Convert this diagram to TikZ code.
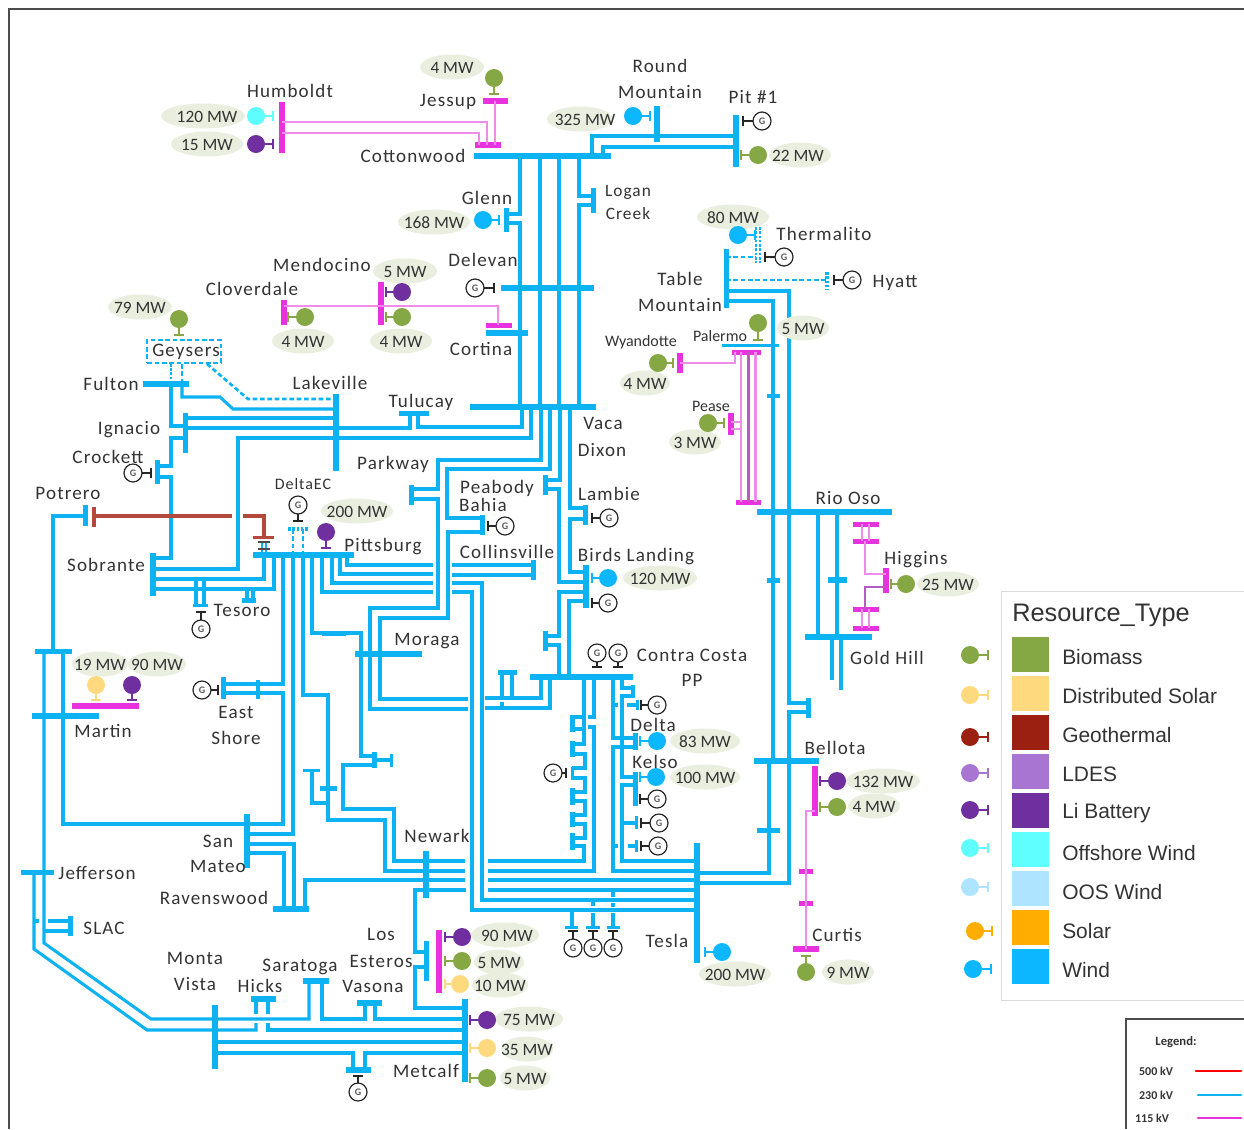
\documentclass[tikz,border=0pt]{standalone}
\usepackage{fontspec}
\setmainfont{Carlito}[LetterSpace=6]
\newfontfamily\mwfont{Carlito}
\newfontfamily\legfont{Liberation Sans}
\usetikzlibrary{shapes.geometric}
\definecolor{cblue}{HTML}{0DB2F2}
\definecolor{cmag}{HTML}{E832E0}
\definecolor{clmag}{HTML}{EE8CE8}
\definecolor{cdmag}{HTML}{B45CC4}
\definecolor{cred}{HTML}{B5483C}
\definecolor{cbio}{HTML}{86A844}
\definecolor{cdso}{HTML}{FFD97D}
\definecolor{cgeo}{HTML}{9C2012}
\definecolor{clde}{HTML}{A875D2}
\definecolor{cli}{HTML}{6F2F9F}
\definecolor{coff}{HTML}{5FFFFF}
\definecolor{coos}{HTML}{AEE4FF}
\definecolor{csol}{HTML}{FFAE00}
\definecolor{cwin}{HTML}{0DB7FF}
\definecolor{cmw}{HTML}{E9EEDF}
\definecolor{ctxt}{HTML}{333333}
\newcounter{autoid}
\tikzset{
 busn/.style={rectangle,inner sep=0pt,outer sep=0pt,draw=none},
 w/.style={draw=cblue,line width=2.3pt,line join=miter},
 wd/.style={draw=cblue,line width=2pt,dash pattern=on 3.5pt off 2pt},
 wdot/.style={draw=cblue,line width=2pt,dash pattern=on 2pt off 1.2pt},
 m/.style={draw=clmag,line width=1.6pt},
 rl/.style={draw=cred,line width=2.4pt},
 gd/.style={circle,inner sep=0pt,outer sep=0pt,minimum size=13.5pt,draw=none},
 gg/.style={circle,inner sep=0pt,outer sep=0pt,minimum size=13.5pt,draw=black!85,line width=0.9pt,fill=white,text=black!65,font=\mwfont\bfseries\fontsize{7.5}{8}\selectfont},
 mwt/.style={inner sep=0pt,outer sep=0pt,text height=9pt,text depth=0pt,text=ctxt,font=\mwfont\fontsize{13}{15}\selectfont},
 lbl/.style={inner sep=0pt,text height=12pt,text depth=3pt,text=ctxt,font=\fontsize{14.3}{16}\selectfont},
}
% name, x1, x2, y, height, colour
\newcommand{\HBus}[6]{\node[busn,fill=#6,minimum width={(#3-#2)*0.75pt},minimum height={#5*0.75pt}] (#1) at ({(#2+#3)/2},#4) {};}
% name, x, y1, y2, width, colour
\newcommand{\VBus}[6]{\node[busn,fill=#6,minimum width={#5*0.75pt},minimum height={(#4-#3)*0.75pt}] (#1) at (#2,{(#3+#4)/2}) {};}
% name, x, y, colour, dx, dy, stem length
\newcommand{\ResGen}[7]{%
 \node[gd,fill=#4] (#1) at (#2,#3) {};
 \coordinate (#1s) at ({#2+#7*#5},{#3+#7*#6});
 \draw[draw=#4,line width=1.4pt] (#1) -- (#1s);
 \draw[draw=#4,line width=1.4pt] ({#2+#7*#5+5*#6},{#3+#7*#6+5*#5}) -- ({#2+#7*#5-5*#6},{#3+#7*#6-5*#5});
}
% name, x, y, dx, dy, stem length
\newcommand{\SynGen}[6]{%
 \coordinate (#1s) at ({#2+#6*#4},{#3+#6*#5});
 \draw[draw=black!85,line width=1.2pt] (#2,#3) -- (#1s);
 \draw[draw=black!85,line width=1.2pt] ({#2+#6*#4+5*#5},{#3+#6*#5+5*#4}) -- ({#2+#6*#4-5*#5},{#3+#6*#5-5*#4});
 \node[gg] (#1) at (#2,#3) {G};
}
% ellipse centre x, y, width, text, text centre x
\newcommand{\MWo}[5]{\stepcounter{autoid}\fill[cmw] (#1,#2) ellipse [x radius={#3/2},y radius=12.5];\node[mwt] (mw\arabic{autoid}) at (#5,#2) {#4};}
\newcommand{\MW}[4]{\MWo{#1}{#2}{#3}{#4}{#1}}
\newcommand{\Lab}[3]{\stepcounter{autoid}\node[lbl] (lb\arabic{autoid}) at (#1,#2) {#3};}
\begin{document}
\begin{tikzpicture}[x=0.75pt,y=-0.75pt]
\useasboundingbox (0,0) rectangle (1244,1129);
\draw[draw=black!70,line width=1pt] (9,1129) -- (9,9) -- (1244,9);
% ---- buses
\VBus{hum}{282}{102}{153}{6}{cmag}
\HBus{jes}{483}{508}{100.5}{6}{cmag}
\HBus{cotm}{475}{501}{145}{6}{cmag}
\HBus{cot}{474}{611}{156}{6}{cblue}
\VBus{rm}{657}{106}{142}{6}{cblue}
\VBus{pit}{736}{115}{167}{6}{cblue}
\VBus{glenn}{506}{208}{232}{5}{cblue}
\VBus{logan}{593}{188}{213}{5}{cblue}
\HBus{dele}{501}{594}{288}{6}{cblue}
\HBus{cort}{486}{528}{333}{6}{cblue}
\HBus{cortm}{486}{512}{325}{5}{cmag}
\VBus{mend}{381}{282}{325}{6}{cmag}
\VBus{clov}{284}{300}{325}{6}{cmag}
\HBus{ful}{143}{189}{384}{6}{cblue}
\VBus{lake}{336}{394}{471}{6}{cblue}
\VBus{ign}{185}{413}{453}{5}{cblue}
\VBus{cro}{157}{460}{484}{5}{cblue}
\HBus{tul}{399}{429}{413}{5}{cblue}
\HBus{vaca}{470}{596}{407}{6}{cblue}
\VBus{pot}{85}{505}{526}{5}{cblue}
\VBus{potr}{94}{507}{527}{4}{cred}
\HBus{redbar}{253}{274}{537}{3}{cred}
\HBus{pitt}{253}{354}{555}{6}{cblue}
\VBus{sob}{153}{553}{596}{6}{cblue}
\HBus{tes}{242}{256}{600}{5}{cblue}
\HBus{tesb}{193}{208}{605}{3}{cblue}
\HBus{mtop}{35}{72}{651}{5}{cblue}
\HBus{mart}{32}{99}{716}{6}{cblue}
\HBus{martm}{72}{139}{706}{6}{cmag}
\VBus{east}{223}{677}{699}{5}{cblue}
\VBus{easts}{258}{680}{699}{4}{cblue}
\VBus{park}{411}{485}{505}{5}{cblue}
\HBus{morb}{322}{346}{633}{5}{cblue}
\HBus{mor}{355}{422}{654}{6}{cblue}
\VBus{bb}{374}{752}{768}{5}{cblue}
\VBus{bc}{391}{754}{767}{3}{cblue}
\HBus{bd}{320}{337}{788}{5}{cblue}
\HBus{be}{303}{320}{770}{3}{cblue}
\VBus{sm}{247}{814}{868}{6}{cblue}
\HBus{rav}{273}{309}{909}{6}{cblue}
\VBus{new}{426}{851}{898}{6}{cblue}
\HBus{jef}{21}{54}{872}{5}{cblue}
\VBus{slac}{70}{916}{936}{5}{cblue}
\VBus{mv}{215}{1005}{1069}{6}{cblue}
\VBus{met}{465}{999}{1082}{6}{cblue}
\HBus{hicks}{251}{276}{999}{6}{cblue}
\HBus{sar}{303}{329}{981}{6}{cblue}
\HBus{vas}{357}{382}{1003}{6}{cblue}
\HBus{mb}{346}{371}{1070}{6}{cblue}
\VBus{le}{426}{941}{981}{5}{cblue}
\VBus{lem}{439}{930}{993}{6}{cmag}
\VBus{peab}{482}{515}{535}{5}{cblue}
\VBus{coll}{533}{560}{580}{5}{cblue}
\VBus{ps}{545}{475}{495}{5}{cblue}
\VBus{lam}{585}{505}{525}{5}{cblue}
\VBus{bird}{586}{565}{608}{6}{cblue}
\VBus{bs}{545}{631}{651}{5}{cblue}
\HBus{cc}{530}{633}{677}{6}{cblue}
\HBus{ccs}{498}{517}{672}{5}{cblue}
\VBus{st}{572}{715}{732}{5}{cblue}
\VBus{su}{572}{741}{757}{5}{cblue}
\VBus{sv}{572}{767}{780}{3}{cblue}
\VBus{sw}{572}{788}{805}{5}{cblue}
\VBus{sx}{572}{812}{827}{5}{cblue}
\VBus{sy}{572}{833}{850}{5}{cblue}
\VBus{da}{633}{685}{698}{4}{cblue}
\VBus{db}{637}{700}{710}{3}{cblue}
\VBus{delta}{635}{733}{750}{5}{cblue}
\VBus{kelso}{635}{772}{806}{5}{cblue}
\VBus{kc}{636}{816}{829}{3}{cblue}
\VBus{kd}{636}{840}{852}{3}{cblue}
\VBus{tesla}{697}{843}{963}{6}{cblue}
\HBus{ta}{565}{578}{927}{3}{cblue}
\HBus{tb}{586}{600}{927}{3}{cblue}
\HBus{tc}{607}{620}{927}{3}{cblue}
\HBus{bel}{754}{819}{761}{6}{cblue}
\VBus{belm}{815}{766}{816}{6}{cmag}
\VBus{belb}{808}{698}{718}{5}{cblue}
\HBus{bels}{757}{780}{830}{5}{cblue}
\HBus{cm1}{799}{813}{871}{5}{cmag}
\HBus{cm2}{799}{813}{903}{5}{cmag}
\HBus{cur}{793}{819}{949}{6}{cmag}
\VBus{tm}{726}{249}{308}{5}{cblue}
\HBus{pal}{722}{779}{345}{3}{cblue}
\HBus{palm}{732}{761}{352}{5}{cmag}
\VBus{wy}{680}{353}{373}{6}{cmag}
\VBus{pea}{731}{413}{435}{6}{cmag}
\HBus{riom}{736}{761}{502}{5}{cmag}
\HBus{rio}{757}{892}{512}{6}{cblue}
\HBus{gold}{805}{872}{637}{6}{cblue}
\HBus{golds}{828}{847}{580}{6}{cblue}
\HBus{rs1}{767}{780}{396}{4}{cblue}
\HBus{rs2}{767}{780}{580}{5}{cblue}
\HBus{hi1}{853}{879}{524}{5}{cmag}
\HBus{hi2}{853}{879}{541}{5}{cmag}
\HBus{hi3}{853}{879}{609}{5}{cmag}
\HBus{hi4}{853}{879}{628}{5}{cmag}
\VBus{hig}{886}{568}{593}{6}{cmag}
\coordinate (hy) at (827,281);
\coordinate (the1) at (756,245);
\coordinate (the2) at (760,245);
\coordinate (delb) at (298,529);
\draw[wdot,line width=3pt] (827,272) -- (827,290);
\draw[wdot] (756,227) -- (756,263);
\draw[wdot] (760,227) -- (760,263);
\draw[wdot,line width=3.6pt] (288,529) -- (308,529);
\node[rectangle,draw=cblue,line width=1.6pt,dash pattern=on 3.5pt off 2pt,minimum width=55pt,minimum height=17pt,inner sep=0pt] (gey) at (184,351.5) {};
% ---- 115 kV
\draw[m] (hum |- 0,122) -- (487,122) -- (487,0 |- cotm);
\draw[m] (hum |- 0,133) -- (479,133) -- (479,0 |- cotm);
\draw[m] (495,0 |- jes) -- (495,0 |- cotm);
\draw[m] (clov |- 0,306) -- (498,306) -- (498,0 |- cortm);
\draw[m] (741,0 |- palm) -- (741,0 |- riom);
\draw[m,draw=cdmag] (748.5,0 |- palm) -- (748.5,0 |- riom);
\draw[m] (755.5,0 |- palm) -- (755.5,0 |- riom);
\draw[m] (wy |- 0,363) -- (735,363) -- (735,0 |- palm);
\draw[m] (pea |- 0,422) -- (741,422);
\draw[m] (pea |- 0,429) -- (741,429);
\draw[m] (862,0 |- hi1) -- (862,0 |- hi2);
\draw[m] (869,0 |- hi1) -- (869,0 |- hi2);
\draw[m] (862,0 |- hi3) -- (862,0 |- hi4);
\draw[m] (869,0 |- hi3) -- (869,0 |- hi4);
\draw[m] (865,0 |- hi2) -- (865,574) -- (hig |- 0,574);
\draw[m,draw=cdmag] (hig |- 0,587) -- (865,587) -- (865,0 |- hi3);
\draw[m] (belm |- 0,811) -- (806,811) -- (806,0 |- cur);
% ---- 230 kV top
\draw[w] (520,0 |- cot) -- (520,214) -- (glenn |- 0,214);
\draw[w] (glenn |- 0,223) -- (520,223) -- (520,0 |- vaca);
\draw[w] (540,0 |- cot) -- (540,0 |- vaca);
\draw[w] (559,0 |- cot) -- (559,0 |- vaca);
\draw[w] (579,0 |- cot) -- (579,196) -- (logan |- 0,196);
\draw[w] (logan |- 0,205) -- (579,205) -- (579,0 |- vaca);
\draw[w] (pit |- 0,136) -- (592,136) -- (592,0 |- cot);
\draw[w] (pit |- 0,147) -- (603,147) -- (603,0 |- cot);
% Geysers
\draw[wdot] (171,0 |- gey.south) -- (171,0 |- ful);
\draw[wd] (182,0 |- gey.south) -- (182,0 |- ful);
\draw[wd] (207,0 |- gey.south) -- (248,399) -- (lake |- 0,399);
\draw[w] (182,0 |- ful) -- (182,397) -- (220,397) -- (233,409) -- (lake |- 0,409);
\draw[w] (171,0 |- ful) -- (171,426) -- (ign |- 0,426);
\draw[w] (ign |- 0,418) -- (lake |- 0,418);
\draw[w] (ign |- 0,428) -- (410,428) -- (410,0 |- tul);
\draw[w] (418,0 |- tul) -- (418,427) -- (522,427) -- (522,0 |- vaca);
\draw[w] (ign |- 0,438) -- (171,438) -- (171,466) -- (cro |- 0,466);
\draw[w] (cro |- 0,477) -- (171,477) -- (171,558) -- (sob |- 0,558);
\draw[w] (sob |- 0,569) -- (238,569) -- (238,438) -- (531,438) -- (531,0 |- vaca);
\draw[w] (sob |- 0,579) -- (264,579) -- (264,0 |- pitt);
\draw[w] (sob |- 0,589) -- (274,589) -- (274,0 |- pitt);
\draw[w] (247,589) -- (247,0 |- tes);
\draw[w] (253,589) -- (253,0 |- tes);
\draw[w] (196,591) -- (196,0 |- tesb);
\draw[w] (204,591) -- (204,0 |- tesb);
\draw[w] (196,581) -- (196,587);
\draw[w] (204,581) -- (204,587);
% Potrero, Martin
\draw[w] (pot |- 0,516) -- (53,516) -- (53,0 |- mtop);
\draw[rl] (potr |- 0,516) -- (232,516);
\draw[rl] (243,516) -- (264,516) -- (264,0 |- redbar);
\draw[w,line width=1pt] (262,541) -- (262,0 |- pitt);
\draw[w,line width=1pt] (266,541) -- (266,0 |- pitt);
\draw[draw=black!70,line width=0.8pt] (258,542) -- (270,542);
\draw[draw=black!70,line width=0.8pt] (258,549) -- (270,549);
\draw[w] (44,0 |- mtop) -- (44,943) -- (151,1019) -- (309,1019) -- (309,0 |- sar);
\draw[w] (322,0 |- sar) -- (322,1019) -- (365,1019) -- (365,0 |- vas);
\draw[w] (375,0 |- vas) -- (375,1019) -- (met |- 0,1019);
\draw[w] (34,0 |- jef) -- (34,949) -- (147,1030) -- (256,1030) -- (256,1023);
\draw[w] (256,0 |- hicks) -- (256,1014);
\draw[w] (268,0 |- hicks) -- (268,1014);
\draw[w] (268,1023) -- (268,1030) -- (met |- 0,1030);
\draw[w] (mv |- 0,1042) -- (met |- 0,1042);
\draw[w] (mv |- 0,1053) -- (353,1053) -- (353,0 |- mb);
\draw[w] (365,0 |- mb) -- (365,1053) -- (met |- 0,1053);
\draw[w] (slac |- 0,921) -- (48,921);
\draw[w] (34,921) -- (39,921);
\draw[w] (slac |- 0,931) -- (44,931);
\draw[w] (63,0 |- mtop) -- (63,824) -- (283,824) -- (283,693) -- (east |- 0,693);
\draw[w] (east |- 0,684) -- (283,684) -- (283,0 |- pitt);
\draw[w] (sm |- 0,834) -- (293,834) -- (293,0 |- pitt);
\draw[w] (sm |- 0,844) -- (294,844) -- (294,0 |- rav);
\draw[w] (sm |- 0,853) -- (284,853) -- (284,0 |- rav);
\draw[w] (305,0 |- rav) -- (305,880) -- (465,880);
% Pittsburg
\draw[wd] (293,0 |- delb) -- (293,0 |- pitt);
\draw[wd] (303,0 |- delb) -- (303,0 |- pitt);
\draw[w] (303,0 |- pitt) -- (303,695) -- (328,695) -- (328,820) -- (385,820) -- (385,871) -- (465,871);
\draw[w] (312,0 |- pitt) -- (312,633) -- (361,633) -- (361,756) -- (bb |- 0,756);
\draw[w] (bb |- 0,760) -- (bc |- 0,760);
\draw[w] (bb |- 0,765) -- (343,765) -- (343,809) -- (394,809) -- (394,861) -- (465,861);
\draw[w] (312,0 |- be) -- (312,803) -- (328,803);
\draw[w] (322,0 |- pitt) -- (322,592) -- (433,592);
\draw[w] (332,0 |- pitt) -- (332,583) -- (433,583);
\draw[w] (340,0 |- pitt) -- (340,574) -- (433,574);
\draw[w] (347,0 |- pitt) -- (347,565) -- (433,565);
\draw[w] (coll |- 0,565) -- (452,565);
\draw[w] (coll |- 0,575) -- (452,575);
\draw[w] (452,583) -- (482,583) -- (482,900) -- (tesla |- 0,900);
\draw[w] (452,592) -- (472,592) -- (472,910) -- (tesla |- 0,910);
% Moraga, Parkway
\draw[w] (541,0 |- vaca) -- (541,460) -- (438,460) -- (438,489) -- (park |- 0,489);
\draw[w] (park |- 0,499) -- (438,499) -- (438,608) -- (370,608) -- (370,709) -- (468,709);
\draw[w] (550,0 |- vaca) -- (550,469) -- (447,469) -- (447,518) -- (peab |- 0,518);
\draw[w] (peab |- 0,532) -- (448,532) -- (448,618) -- (380,618) -- (380,699) -- (468,699);
\draw[w] (485,698) -- (541,698) -- (541,0 |- cc);
\draw[w] (485,708) -- (550,708) -- (550,0 |- cc);
\draw[w] (502,0 |- ccs) -- (502,698);
\draw[w] (502,702) -- (502,708);
\draw[w] (512,0 |- ccs) -- (512,698);
% Vaca down
\draw[w] (560,0 |- vaca) -- (560,480) -- (ps |- 0,480);
\draw[w] (ps |- 0,489) -- (559,489) -- (559,582) -- (bird |- 0,582);
\draw[w] (570,0 |- vaca) -- (570,508) -- (lam |- 0,508);
\draw[w] (lam |- 0,519) -- (570,519) -- (570,572) -- (bird |- 0,572);
\draw[w] (bird |- 0,592) -- (559,592) -- (559,636) -- (bs |- 0,636);
\draw[w] (bs |- 0,645) -- (559,645) -- (559,0 |- cc);
\draw[w] (bird |- 0,601) -- (569,601) -- (569,0 |- cc);
% Contra Costa staircase
\draw[w] (584,0 |- cc) -- (584,744) -- (su |- 0,744);
\draw[w] (st |- 0,717) -- (584,717);
\draw[w] (st |- 0,729) -- (584,729);
\draw[w] (su |- 0,754) -- (585,754) -- (585,768) -- (sv |- 0,768);
\draw[w] (sv |- 0,778) -- (585,778) -- (585,792) -- (sw |- 0,792);
\draw[w] (sw |- 0,801) -- (585,801) -- (585,815) -- (sx |- 0,815);
\draw[w] (sx |- 0,824) -- (585,824) -- (585,838) -- (sy |- 0,838);
\draw[w] (sy |- 0,846) -- (584,846) -- (584,861) -- (488,861);
\draw[w] (594,0 |- cc) -- (594,717) -- (588,717);
\draw[w] (588,727) -- (594,727) -- (594,871) -- (488,871);
\draw[w] (613,0 |- cc) -- (613,738) -- (delta |- 0,738);
\draw[w] (613,705) -- (618,705);
\draw[w] (627,705) -- (db |- 0,705);
\draw[w] (delta |- 0,747) -- (613,747) -- (613,871) -- (697,871);
\draw[w] (613,846) -- (618,846);
\draw[w] (628,846) -- (kd |- 0,846);
\draw[w] (622,0 |- cc) -- (622,688) -- (da |- 0,688);
\draw[w] (da |- 0,696) -- (622,696) -- (622,777) -- (kelso |- 0,777);
\draw[w] (kelso |- 0,785) -- (622,785) -- (622,861) -- (697,861);
\draw[w] (622,823) -- (kc |- 0,823);
% Newark, Tesla
\draw[w] (488,880) -- (tesla |- 0,880);
\draw[w] (tesla |- 0,890) -- (488,890);
\draw[w] (466,890) -- (415,890) -- (415,952) -- (le |- 0,952);
\draw[w] (le |- 0,967) -- (415,967) -- (415,1008) -- (met |- 0,1008);
\draw[w] (572,910) -- (572,0 |- ta);
\draw[w] (593,913) -- (593,0 |- tb);
\draw[w] (593,899) -- (593,906);
\draw[w] (613,913) -- (613,0 |- tc);
\draw[w] (613,892) -- (613,897);
\draw[w] (613,903) -- (613,907);
\draw[w] (tesla |- 0,873) -- (769,873) -- (769,0 |- bel);
\draw[w] (tesla |- 0,883) -- (789,883) -- (789,712) -- (belb |- 0,712);
\draw[w] (belb |- 0,703) -- (789,703) -- (789,291) -- (tm |- 0,291);
\draw[w] (773,0 |- bel) -- (773,301) -- (tm |- 0,301);
% Rio Oso
\draw[w] (818,0 |- rio) -- (818,0 |- gold);
\draw[w] (837,0 |- rio) -- (837,0 |- gold);
\draw[w] (832,0 |- gold) -- (832,680);
\draw[w] (841,0 |- gold) -- (841,690);
% Thermalito, Hyatt
\draw[wd] (tm |- 0,257) -- (the1 |- 0,257);
\draw[wd] (tm |- 0,280) -- (hy |- 0,280);
% ---- ellipses
\MW{452}{67}{64}{4 MW}
\MWo{203}{116}{84}{120 MW}{207}
\MW{207}{144}{72}{15 MW}
\MW{434}{222}{72}{168 MW}
\MW{405}{271}{64}{5 MW}
\MW{303}{341}{62}{4 MW}
\MW{401}{341}{62}{4 MW}
\MW{140}{307}{64}{79 MW}
\MW{357}{511}{72}{200 MW}
\MW{100}{664}{56}{19 MW}
\MW{157}{664}{58}{90 MW}
\MWo{505}{935}{68}{90 MW}{507}
\MW{499}{962}{50}{5 MW}
\MW{500}{985}{56}{10 MW}
\MW{529}{1019}{68}{75 MW}
\MW{527}{1049}{52}{35 MW}
\MW{525}{1078}{50}{5 MW}
\MWo{580}{119}{66}{325 MW}{585}
\MWo{800}{155}{62}{22 MW}{798}
\MW{733}{217}{72}{80 MW}
\MW{803}{328}{52}{5 MW}
\MW{645}{383}{50}{4 MW}
\MW{695}{442}{52}{3 MW}
\MW{660}{578}{74}{120 MW}
\MW{948}{584}{62}{25 MW}
\MW{705}{741}{70}{83 MW}
\MW{705}{777}{70}{100 MW}
\MW{735}{974}{72}{200 MW}
\MW{883}{781}{74}{132 MW}
\MW{874}{806}{52}{4 MW}
\MW{848}{972}{52}{9 MW}
% ---- resource generators
\ResGen{g1}{494}{78}{cbio}{0}{1}{16}
\ResGen{g2}{256}{116}{coff}{1}{0}{17}
\ResGen{g3}{256}{144}{cli}{1}{0}{17}
\ResGen{g4}{483}{220}{cwin}{1}{0}{16}
\ResGen{g5}{402}{292}{cli}{-1}{0}{16}
\ResGen{g6}{402}{317}{cbio}{-1}{0}{16}
\ResGen{g7}{305}{317}{cbio}{-1}{0}{17}
\ResGen{g8}{179}{319}{cbio}{0}{1}{16}
\ResGen{g9}{326}{532}{cli}{0}{1}{16}
\ResGen{g10}{96}{685}{cdso}{0}{1}{15}
\ResGen{g11}{132}{685}{cli}{0}{1}{15}
\ResGen{g12}{462}{937}{cli}{-1}{0}{17}
\ResGen{g13}{462}{961}{cbio}{-1}{0}{17}
\ResGen{g14}{460}{984}{cdso}{-1}{0}{15}
\ResGen{g15}{487}{1020}{cli}{-1}{0}{17}
\ResGen{g16}{487}{1048}{cdso}{-1}{0}{17}
\ResGen{g17}{487}{1078}{cbio}{-1}{0}{17}
\ResGen{g18}{633}{116}{cwin}{1}{0}{17}
\ResGen{g19}{758}{155}{cbio}{-1}{0}{17}
\ResGen{g20}{738}{235}{cwin}{1}{0}{17}
\ResGen{g21}{758}{323}{cbio}{0}{1}{17}
\ResGen{g22}{658}{363}{cbio}{1}{0}{15}
\ResGen{g23}{708}{423}{cbio}{1}{0}{16}
\ResGen{g24}{608}{578}{cwin}{-1}{0}{16}
\ResGen{g25}{906}{584}{cbio}{-1}{0}{15}
\ResGen{g26}{657}{741}{cwin}{-1}{0}{17}
\ResGen{g27}{656}{777}{cwin}{-1}{0}{16}
\ResGen{g28}{722}{952}{cwin}{-1}{0}{17}
\ResGen{g29}{837}{781}{cli}{-1}{0}{17}
\ResGen{g30}{837}{807}{cbio}{-1}{0}{17}
\ResGen{g31}{806}{972}{cbio}{0}{-1}{16}
% ---- synchronous generators
\SynGen{s1}{475}{288}{1}{0}{19}
\SynGen{s2}{133}{473}{1}{0}{18}
\SynGen{s3}{201}{629}{0}{-1}{17}
\SynGen{s4}{298}{505}{0}{1}{16}
\SynGen{s5}{202}{690}{1}{0}{16}
\SynGen{s6}{358}{1092}{0}{-1}{16}
\SynGen{s7}{762}{121}{-1}{0}{19}
\SynGen{s8}{784}{257}{-1}{0}{19}
\SynGen{s9}{852}{280}{-1}{0}{18}
\SynGen{s10}{609}{518}{-1}{0}{17}
\SynGen{s11}{505}{526}{-1}{0}{17}
\SynGen{s12}{608}{603}{-1}{0}{16}
\SynGen{s13}{597}{653}{0}{1}{14}
\SynGen{s14}{618}{653}{0}{1}{14}
\SynGen{s15}{553}{773}{1}{0}{13}
\SynGen{s16}{657}{705}{-1}{0}{16}
\SynGen{s17}{657}{799}{-1}{0}{17}
\SynGen{s18}{659}{823}{-1}{0}{18}
\SynGen{s19}{658}{846}{-1}{0}{17}
\SynGen{s20}{573}{948}{0}{-1}{17}
\SynGen{s21}{593}{948}{0}{-1}{17}
\SynGen{s22}{613}{948}{0}{-1}{17}
% ---- labels
\Lab{290}{91}{Humboldt}
\Lab{448}{100}{Jessup}
\Lab{413}{156}{Cottonwood}
\Lab{487}{198}{Glenn}
\Lab{322}{265}{Mendocino}
\Lab{252}{289}{Cloverdale}
\Lab{483}{260}{Delevan}
\Lab{481}{349}{Cortina}
\Lab{186}{350}{Geysers}
\Lab{330}{383}{Lakeville}
\Lab{111}{384}{Fulton}
\Lab{421}{401}{Tulucay}
\Lab{129}{428}{Ignacio}
\Lab{108}{457}{Crockett}
\Lab{68}{493}{Potrero}
\Lab{393}{463}{Parkway}
\Lab{303}{483}{\fontsize{12}{14}\selectfont DeltaEC}
\Lab{383}{545}{Pittsburg}
\Lab{106}{565}{Sobrante}
\Lab{242}{610}{Tesoro}
\Lab{427}{639}{Moraga}
\Lab{103}{731}{Martin}
\Lab{236}{712}{East}
\Lab{236}{738}{Shore}
\Lab{218}{841}{San}
\Lab{218}{866}{Mateo}
\Lab{97}{873}{Jefferson}
\Lab{214}{898}{Ravenswood}
\Lab{104}{928}{SLAC}
\Lab{195}{958}{Monta}
\Lab{195}{984}{Vista}
\Lab{300}{965}{Saratoga}
\Lab{260}{986}{Hicks}
\Lab{381}{934}{Los}
\Lab{381}{961}{Esteros}
\Lab{373}{986}{Vasona}
\Lab{426}{1071}{Metcalf}
\Lab{437}{836}{Newark}
\Lab{660}{66}{Round}
\Lab{660}{92}{Mountain}
\Lab{753}{97}{Pit \#1}
\Lab{628}{190}{\fontsize{13}{15}\selectfont Logan}
\Lab{628}{213}{\fontsize{13}{15}\selectfont Creek}
\Lab{824}{234}{Thermalito}
\Lab{680}{279}{Table}
\Lab{680}{305}{Mountain}
\Lab{895}{281}{Hyatt}
\Lab{641}{340}{\mwfont\fontsize{12}{14}\selectfont Wyandotte}
\Lab{720}{335}{\mwfont\fontsize{12}{14}\selectfont Palermo}
\Lab{711}{405}{\mwfont\fontsize{12}{14}\selectfont Pease}
\Lab{603}{423}{Vaca}
\Lab{602}{450}{Dixon}
\Lab{609}{494}{Lambie}
\Lab{497}{487}{Peabody}
\Lab{483}{505}{Bahia}
\Lab{507}{552}{Collinsville}
\Lab{636}{555}{Birds Landing}
\Lab{692}{655}{Contra Costa}
\Lab{692}{680}{PP}
\Lab{848}{498}{Rio Oso}
\Lab{916}{558}{Higgins}
\Lab{887}{658}{Gold Hill}
\Lab{653}{725}{Delta}
\Lab{655}{762}{Kelso}
\Lab{835}{748}{Bellota}
\Lab{837}{935}{Curtis}
\Lab{667}{941}{Tesla}
% ---- Resource legend
\node[busn,draw=black!15,line width=0.7pt,fill=white,minimum width=183pt,minimum height=306.75pt] (panel) at (1123,795.5) {};
\node[inner sep=0pt,anchor=west,text=ctxt,font=\legfont\fontsize{19}{22}\selectfont] (ltitle) at (1012,615) {Resource\_Type};
\foreach \n/\c/\y/\t in {a/cbio/654.5/Biomass,b/cdso/693.5/Distributed Solar,c/cgeo/732.5/Geothermal,d/clde/771.5/LDES,e/cli/810.5/Li Battery,f/coff/849.5/Offshore Wind,g/coos/888.5/OOS Wind,h/csol/927.5/Solar,i/cwin/966.5/Wind}{
 \node[busn,fill=\c,minimum width=27.75pt,minimum height=26.25pt] (sq\n) at (1030.5,\y) {};
 \node[inner sep=0pt,anchor=west,text=ctxt,font=\legfont\fontsize{15.7}{18}\selectfont] (tx\n) at (1062,\y+3) {\t};
}
\ResGen{la}{970}{655}{cbio}{1}{0}{18}
\ResGen{lb}{970}{695}{cdso}{1}{0}{18}
\ResGen{lc}{970}{737}{cgeo}{1}{0}{18}
\ResGen{ld}{970}{773}{clde}{1}{0}{18}
\ResGen{le2}{970}{810}{cli}{1}{0}{18}
\ResGen{lf}{970}{848}{coff}{1}{0}{18}
\ResGen{lg}{970}{887}{coos}{1}{0}{18}
\ResGen{lh}{975}{931}{csol}{1}{0}{17}
\ResGen{li}{973}{969}{cwin}{1}{0}{18}
% ---- Voltage legend
\draw[draw=black!70,line width=1.3pt] (1244,1019) -- (1126,1019) -- (1126,1129);
\node[inner sep=0pt,text=black!80,font=\mwfont\bfseries\fontsize{9.5}{11}\selectfont] (vt) at (1176,1042) {Legend:};
\node[inner sep=0pt,text=black!80,font=\mwfont\bfseries\fontsize{9}{11}\selectfont] (v5) at (1156,1071) {500 kV};
\node[inner sep=0pt,text=black!80,font=\mwfont\bfseries\fontsize{9}{11}\selectfont] (v2) at (1156,1095) {230 kV};
\node[inner sep=0pt,text=black!80,font=\mwfont\bfseries\fontsize{9}{11}\selectfont] (v1) at (1152,1118) {115 kV};
\coordinate (e5) at (1241,1071);
\coordinate (e2) at (1241,1095);
\coordinate (e1) at (1241,1118);
\draw[draw=red,line width=2pt,line cap=round] (1196,1071) -- (e5);
\draw[draw=cblue,line width=2pt,line cap=round] (1198,1095) -- (e2);
\draw[draw=cmag,line width=2pt,line cap=round] (1198,1118) -- (e1);
\end{tikzpicture}
\end{document}
